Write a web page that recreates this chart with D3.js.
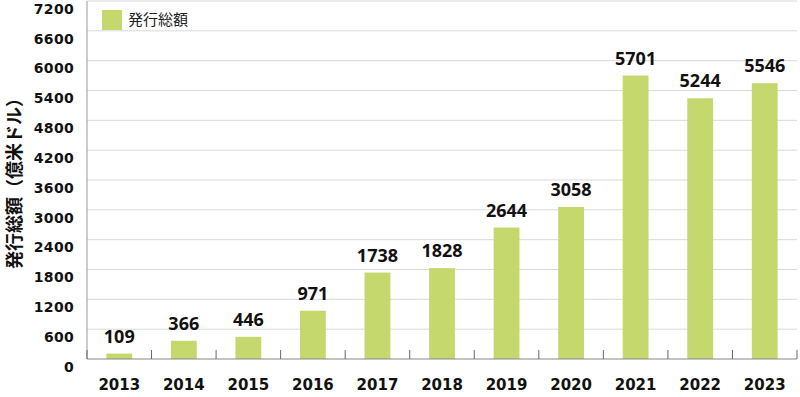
<!DOCTYPE html>
<html>
<head>
<meta charset="utf-8">
<script src="https://cdn.jsdelivr.net/npm/d3@7"></script>
<style>
  body { margin: 0; background: #fff; }
  text { font-family: "Liberation Sans", Arial, "Noto Sans CJK JP", sans-serif; }
</style>
</head>
<body>
<div id="chart"></div>
<script>
const years = ['2013','2014','2015','2016','2017','2018','2019','2020','2021','2022','2023'];
const issuance = [109, 366, 446, 971, 1738, 1828, 2644, 3058, 5701, 5244, 5546];
const yTicks = [0, 600, 1200, 1800, 2400, 3000, 3600, 4200, 4800, 5400, 6000, 6600, 7200];
const seriesName = '発行総額';
const yTitle = '発行総額（億米ドル）';

const width = 800, height = 397;
const margin = { top: 1, right: 3, bottom: 38, left: 87 };

const svg = d3.select('#chart').append('svg')
  .attr('width', width)
  .attr('height', height);

const x = d3.scaleBand()
  .domain(years)
  .range([margin.left, width - margin.right])
  .paddingInner(0.6)
  .paddingOuter(0.3);

const xOuter = d3.scaleBand()
  .domain(years)
  .range([margin.left, width - margin.right]);

const y = d3.scaleLinear()
  .domain([0, 7200])
  .range([height - margin.bottom, margin.top]);

// gridlines
svg.append('g')
  .selectAll('line')
  .data(yTicks.filter(d => d > 0))
  .join('line')
  .attr('x1', margin.left)
  .attr('x2', width - margin.right)
  .attr('y1', d => y(d))
  .attr('y2', d => y(d))
  .attr('stroke', '#d9d9d9')
  .attr('stroke-width', 1);

// y tick labels
svg.append('g')
  .selectAll('text')
  .data(yTicks)
  .join('text')
  .attr('x', 74)
  .attr('y', d => y(d) + 12.7)
  .attr('text-anchor', 'end')
  .attr('font-size', 14)
  .attr('font-weight', 'bold')
  .attr('letter-spacing', 0.3)
  .style('font-family', '"DejaVu Sans", sans-serif')
  .attr('fill', '#111')
  .text(d => d);

// bars
svg.append('g')
  .selectAll('rect')
  .data(issuance)
  .join('rect')
  .attr('x', (d, i) => x(years[i]))
  .attr('width', x.bandwidth())
  .attr('y', d => y(d))
  .attr('height', d => y(0) - y(d))
  .attr('fill', '#c4d86e');

// value labels
svg.append('g')
  .selectAll('text')
  .data(issuance)
  .join('text')
  .attr('x', (d, i) => x(years[i]) + x.bandwidth() / 2)
  .attr('y', d => y(d) - 11)
  .attr('text-anchor', 'middle')
  .attr('font-size', 18)
  .attr('font-weight', 'bold')
  .style('font-family', '"Noto Sans", sans-serif')
  .attr('fill', '#111')
  .text(d => d);

// axes lines
svg.append('line')
  .attr('x1', margin.left).attr('x2', margin.left)
  .attr('y1', margin.top).attr('y2', y(0))
  .attr('stroke', '#999');

svg.append('line')
  .attr('x1', margin.left).attr('x2', width - margin.right)
  .attr('y1', y(0)).attr('y2', y(0))
  .attr('stroke', '#888');

// x ticks at band boundaries (pointing up)
svg.append('g')
  .selectAll('line')
  .data(years.concat(['end']))
  .join('line')
  .attr('x1', (d, i) => i < years.length ? xOuter(d) : width - margin.right)
  .attr('x2', (d, i) => i < years.length ? xOuter(d) : width - margin.right)
  .attr('y1', y(0))
  .attr('y2', y(0) - 9)
  .attr('stroke', '#666');

// x labels
svg.append('g')
  .selectAll('text')
  .data(years)
  .join('text')
  .attr('x', d => xOuter(d) + xOuter.bandwidth() / 2)
  .attr('y', 390)
  .attr('text-anchor', 'middle')
  .attr('font-size', 15)
  .attr('font-weight', 'bold')
  .style('font-family', '"DejaVu Sans", sans-serif')
  .attr('fill', '#111')
  .text(d => d);

// legend
svg.append('rect')
  .attr('x', 102).attr('y', 10)
  .attr('width', 20).attr('height', 20)
  .attr('fill', '#c4d86e');
svg.append('text')
  .attr('x', 128).attr('y', 25)
  .attr('font-size', 15)
  .style('font-family', '"Noto Sans CJK JP", sans-serif')
  .attr('fill', '#222')
  .text(seriesName);

// y title
svg.append('text')
  .attr('transform', 'translate(13,179) rotate(-90)')
  .attr('text-anchor', 'middle')
  .attr('dominant-baseline', 'central')
  .attr('font-size', 18)
  .attr('font-weight', 'bold')
  .style('font-family', '"Noto Sans CJK JP", sans-serif')
  .attr('fill', '#111')
  .text(yTitle);
</script>
</body>
</html>
